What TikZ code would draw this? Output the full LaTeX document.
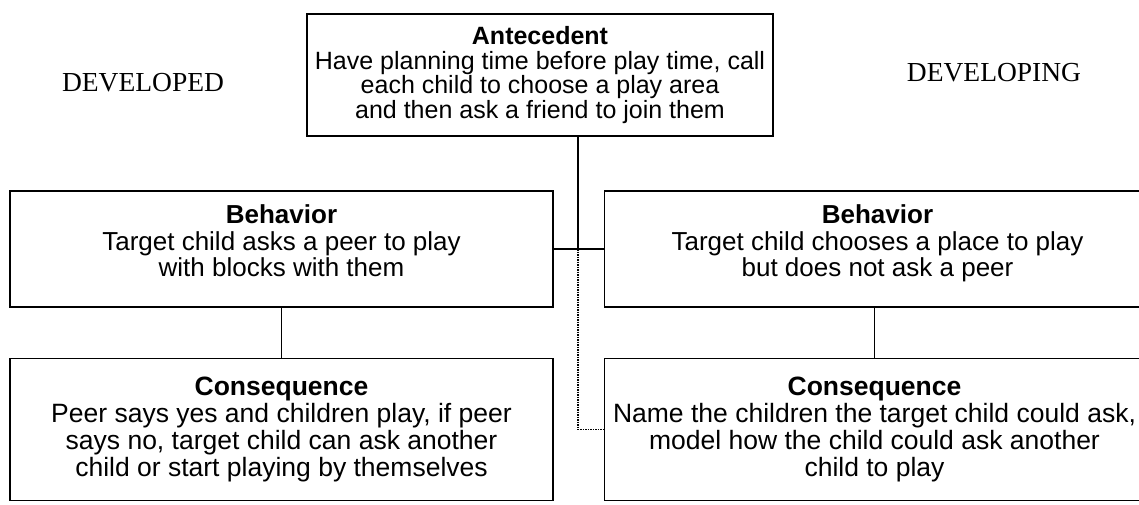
\documentclass[tikz,border=0pt]{standalone}
\usepackage{fontspec}
\setmainfont{Liberation Serif}
\newfontfamily\boxfont{Liberation Sans}
\usetikzlibrary{positioning}
\newcommand{\boxhead}[1]{{\bfseries #1}}

\begin{document}
\begin{tikzpicture}[x=1pt, y=-1pt,
    box/.style={draw, line width=1.5pt, align=center, inner sep=0pt, minimum width=546pt, font=\boxfont\fontsize{26}{26.5}\selectfont},
    cons/.style={box, minimum height=142pt, font=\boxfont\fontsize{26.5}{26.7}\selectfont},
    link/.style={line width=1.5pt},
    side/.style={font=\fontsize{27.5}{30}\selectfont},
]
\useasboundingbox (0,0) rectangle (1139,504);

\node[side] (developed) at (143,83) {DEVELOPED};
\node[side] (developing) at (994,73) {DEVELOPING};

\node[box, minimum width=466pt, minimum height=122pt, font=\boxfont\fontsize{25}{24.5}\selectfont] (ante) at (540,75) {\boxhead{Antecedent}\\Have planning time before play time, call\\each child to choose a play area\\and then ask a friend to join them};

\node[box, minimum width=543pt, minimum height=116pt] (behL) at (281.5,249) {\boxhead{Behavior}\\Target child asks a peer to play\\with blocks with them\\[-10pt]\mbox{}};
\node[box, minimum height=116pt, right=50pt of behL] (behR) {\boxhead{Behavior}\\Target child chooses a place to play\\but does not ask a peer\\[-10pt]\mbox{}};

\node[cons, minimum width=543pt, below=50pt of behL] (conL) {\boxhead{Consequence}\\Peer says yes and children play, if peer\\says no, target child can ask another\\child or start playing by themselves};
\node[cons, minimum width=540pt, below=50pt of behR.south west, anchor=north west] (conR) {\boxhead{Consequence}\\Name the children the target child could ask,\\model how the child could ask another\\child to play};

\coordinate (hub) at (578,249);
\draw[link] (ante.south -| hub) -- (hub);
\draw[link] (behL) -- (behR);
\draw[link, densely dotted] (hub) |- (conR.west);
\draw[link] (behL) -- (conL);
\draw[link] (behR.south -| conR.north) -- (conR);
\end{tikzpicture}
\end{document}
